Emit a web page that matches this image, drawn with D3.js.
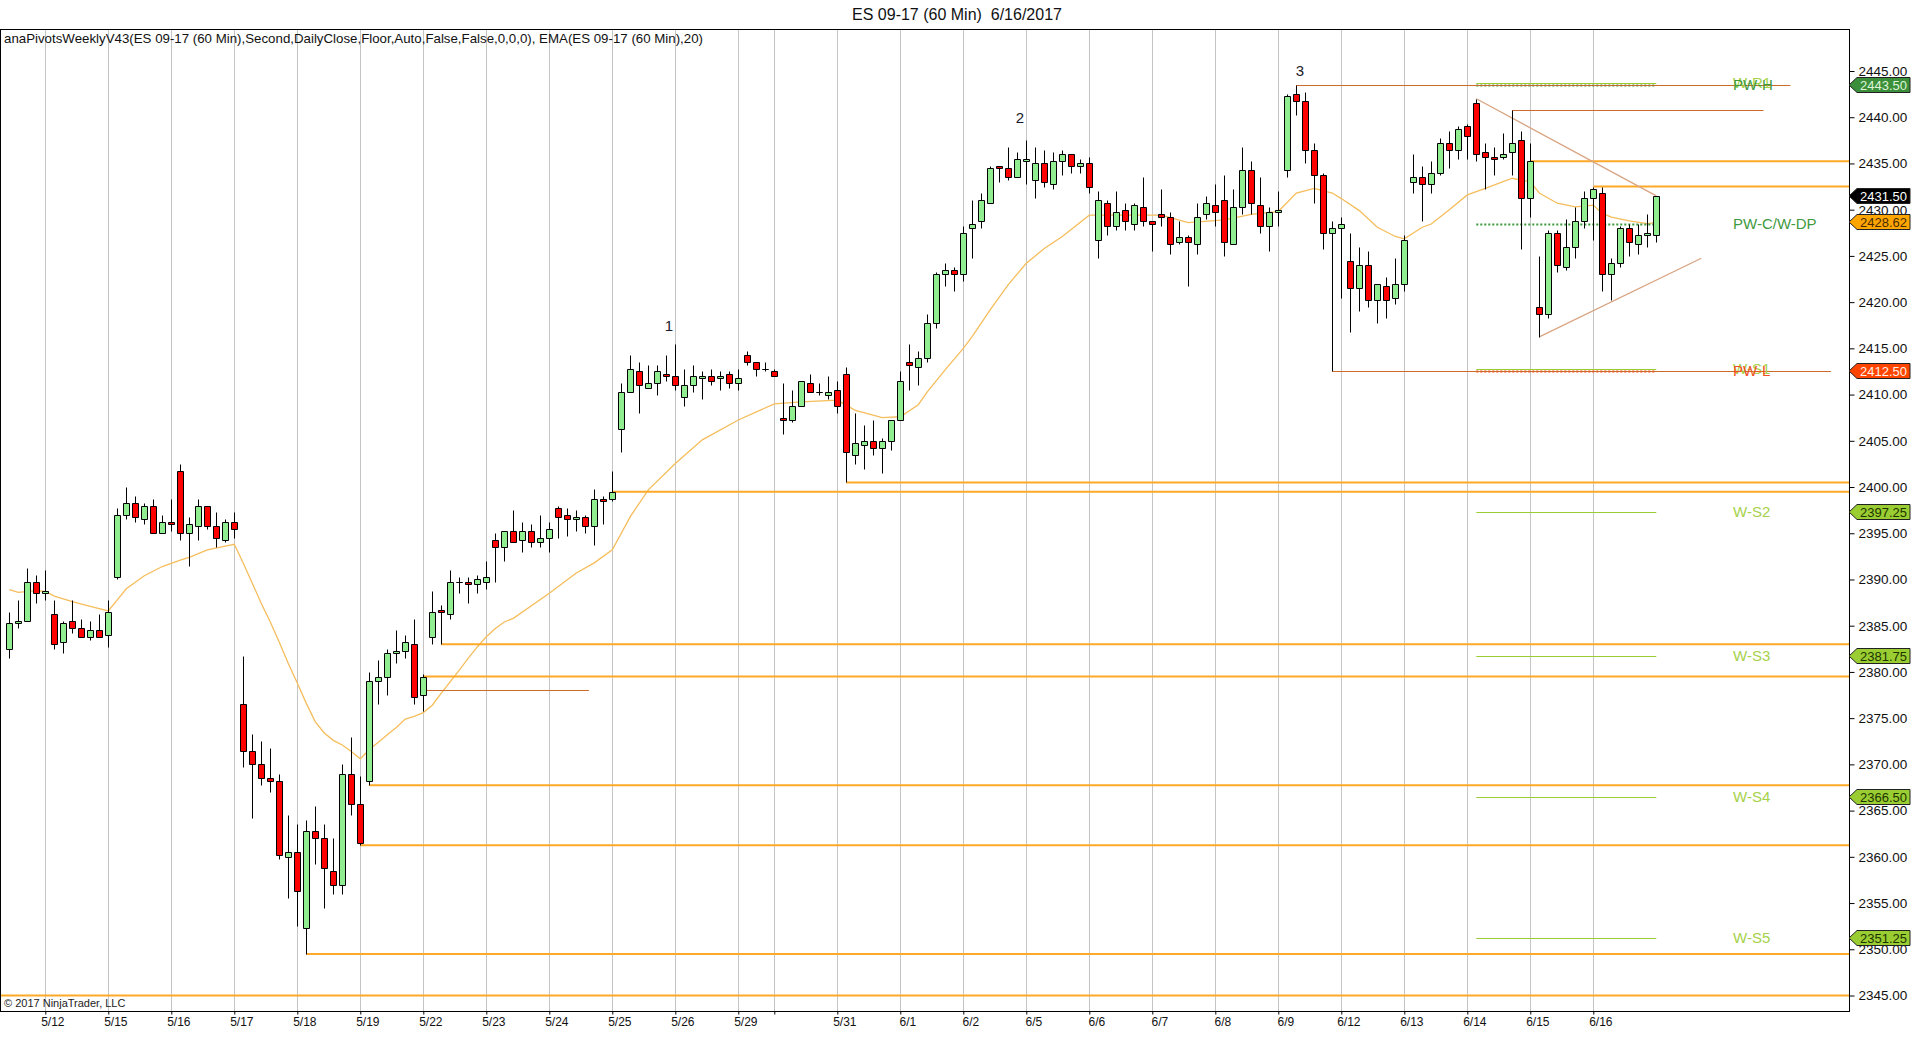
<!DOCTYPE html>
<html>
<head>
<meta charset="utf-8">
<script src="https://cdn.jsdelivr.net/npm/d3@7"></script>
<style>
  html, body { margin: 0; padding: 0; background: #fff; }
  svg { display: block; font-family: "Liberation Sans", Arial, sans-serif; }
</style>
</head>
<body>
<svg id="chart" width="1920" height="1055"></svg>
<script>
// ES 09-17, 60 min bars, 5/11 .. 6/16
const opens = [
  2382.5, 2385.25, 2385.5, 2389.75, 2388.5, 2386.25, 2383.25, 2385.5, 2384.75, 2383.75,
  2384.5, 2384, 2390.25, 2397, 2398.25, 2396.5, 2398, 2395, 2396.25, 2401.75,
  2395, 2395.75, 2398, 2395.75, 2394.25, 2396.25, 2376.5, 2371.5, 2370, 2368.5,
  2368.25, 2360, 2360.5, 2352.25, 2362.75, 2362, 2358.5, 2357, 2369, 2365.75,
  2368.25, 2379, 2379.5, 2382, 2382.25, 2383, 2377.5, 2383.75, 2386.75, 2386.25,
  2389.75, 2389.75, 2389.5, 2389.75, 2394.25, 2393.5, 2395.25, 2394.25, 2395.25, 2394,
  2394.5, 2397.75, 2397, 2396.5, 2396.75, 2395.75, 2398.75, 2398.75, 2406.25, 2410.25,
  2412.5, 2410.75, 2411.25, 2412.25, 2412, 2409.75, 2411, 2411.75, 2412, 2411.75,
  2412.25, 2411.25, 2414.25, 2413.5, 2412.75, 2412.5, 2407.5, 2407.25, 2408.75, 2411.25,
  2410.25, 2410, 2410.5, 2412.25, 2403.5, 2404.5, 2405, 2404.25, 2405, 2407.25,
  2413.5, 2413, 2414, 2417.75, 2423, 2423.5, 2423, 2428, 2428.75, 2430.75,
  2434.75, 2434.5, 2433.5, 2435.25, 2433.25, 2435, 2432.75, 2435.25, 2436, 2434.75,
  2435, 2426.75, 2430.75, 2428.25, 2430, 2428.5, 2430.25, 2428.75, 2429.5, 2429.25,
  2426.5, 2427, 2426.25, 2429.5, 2430.5, 2431, 2426.25, 2430.25, 2434.25, 2430.5,
  2428.25, 2429.75, 2434.25, 2442.5, 2441.75, 2436.5, 2433.75, 2427.5, 2428, 2424.5,
  2421.5, 2424, 2420.25, 2421.75, 2420.5, 2422, 2433, 2433.5, 2432.75, 2434,
  2437.25, 2436.5, 2439, 2441.5, 2436.25, 2435.75, 2435.75, 2436.25, 2437.5, 2431.25,
  2419.5, 2418.75, 2427.5, 2423.75, 2426, 2428.75, 2431.25, 2431.75, 2423, 2424.25,
  2428, 2426.25, 2427.25, 2427.25
];
const highs = [
  2386.5, 2387.75, 2391.25, 2390.5, 2391, 2387.75, 2385.5, 2387.75, 2385.75, 2385.5,
  2386.25, 2387.75, 2397.75, 2400, 2399, 2398.25, 2398.75, 2397, 2398.75, 2402.5,
  2396.75, 2398.75, 2398, 2397.25, 2396.5, 2397.25, 2381.75, 2373.25, 2372.5, 2371.75,
  2369, 2364.5, 2363.5, 2364, 2365.5, 2363.5, 2362, 2370, 2373, 2368.75,
  2380, 2381.25, 2382.5, 2384.5, 2384, 2385.75, 2379.75, 2388.75, 2387.25, 2391,
  2390.25, 2390.25, 2390.5, 2392, 2395, 2395.25, 2397.5, 2396.25, 2396, 2397,
  2396.25, 2398, 2397.75, 2397.5, 2397, 2399.75, 2399, 2401.75, 2411.25, 2414.25,
  2413.5, 2413.25, 2413.25, 2414.25, 2415.5, 2412.75, 2413.25, 2412.5, 2412.75, 2412.5,
  2412.5, 2412.75, 2414.75, 2413.5, 2413.5, 2412.75, 2411.25, 2410.5, 2411.5, 2412.25,
  2411.25, 2412, 2411.5, 2413, 2408, 2406.75, 2407.25, 2405.25, 2407.25, 2412.5,
  2415.5, 2414.75, 2418.75, 2423.25, 2424.25, 2423.75, 2428.25, 2431, 2431.75, 2434.75,
  2434.75, 2436.75, 2436.25, 2437.5, 2436.75, 2436.5, 2436.25, 2436.5, 2436, 2435.5,
  2435.75, 2432, 2431, 2432, 2430.75, 2430.75, 2433.5, 2428.75, 2432.25, 2429.75,
  2428.75, 2427.25, 2430.75, 2431.5, 2432.75, 2433.75, 2432.25, 2436.75, 2435.25, 2433.5,
  2430.25, 2432, 2442.5, 2443.5, 2442.75, 2437.25, 2434, 2428.75, 2429.25, 2427.5,
  2426, 2425.5, 2422, 2422.75, 2424.75, 2427.25, 2436, 2434.75, 2435.25, 2437.75,
  2438.5, 2439, 2439.25, 2442, 2437.25, 2436.75, 2438.25, 2440.75, 2438.5, 2437.25,
  2425, 2427.75, 2427.75, 2429, 2430.25, 2432, 2432.5, 2432.5, 2424.75, 2428.25,
  2428.5, 2428.5, 2429.5, 2431.5
];
const lows = [
  2381.5, 2384.75, 2385.5, 2387.5, 2387.75, 2382.5, 2382, 2384.25, 2383.75, 2383.5,
  2383.75, 2382.75, 2390, 2396.5, 2396.25, 2396, 2395, 2395, 2395.25, 2394.25,
  2391.5, 2394.25, 2395.5, 2393.5, 2394, 2394.5, 2369.75, 2364.25, 2367.75, 2367,
  2359.75, 2355.5, 2352.5, 2349.5, 2359.25, 2354.5, 2356, 2356, 2364.5, 2361.25,
  2367.75, 2376.5, 2377.5, 2381, 2381.5, 2376.5, 2375.75, 2383, 2383, 2385.75,
  2388.5, 2387.5, 2388.5, 2389, 2389.75, 2392, 2394, 2393, 2393.5, 2393.5,
  2393, 2394.5, 2394.75, 2395.25, 2395, 2393.75, 2396, 2398.5, 2403.75, 2410.25,
  2408, 2410.75, 2410, 2411.5, 2410.5, 2408.75, 2410.25, 2409.5, 2411, 2410.5,
  2410.75, 2410.5, 2413.25, 2412, 2412.5, 2412, 2405.75, 2407, 2408.75, 2410.25,
  2410, 2409.5, 2408, 2400.5, 2402.5, 2402, 2403.5, 2401.5, 2404, 2407.25,
  2410.5, 2411, 2413.5, 2417.25, 2421.75, 2421.25, 2422.25, 2424.75, 2428, 2430.75,
  2433, 2433.25, 2433.5, 2432.75, 2431.25, 2432.5, 2432.25, 2433.75, 2434, 2434,
  2431.75, 2424.75, 2427.25, 2427.75, 2427.75, 2427.75, 2428.25, 2425.5, 2428.25, 2425.25,
  2426.25, 2421.75, 2425.25, 2429, 2428.25, 2425, 2426.25, 2429.5, 2429.5, 2427.5,
  2425.5, 2428.25, 2433.5, 2440.25, 2435, 2430.75, 2425.75, 2412.5, 2420.5, 2416.75,
  2419, 2419.5, 2417.75, 2418.25, 2419.75, 2421.25, 2431.75, 2428.75, 2431.75, 2433.75,
  2434.5, 2435.5, 2435.5, 2435.25, 2432.25, 2433.75, 2435.5, 2433.75, 2425.75, 2429.25,
  2416.25, 2418.25, 2423.25, 2423.5, 2424.75, 2428, 2426.75, 2421.25, 2420.25, 2423.75,
  2425, 2425.25, 2426, 2426.5
];
const closes = [
  2385.25, 2385.5, 2389.75, 2388.5, 2388.75, 2383, 2385.25, 2384.75, 2383.75, 2384.5,
  2383.75, 2386.5, 2397, 2398.25, 2396.75, 2398, 2395, 2396.25, 2396, 2395,
  2396, 2398, 2395.75, 2394.5, 2396.25, 2395.5, 2371.5, 2370, 2368.5, 2368.25,
  2360.25, 2360.5, 2356.25, 2362.75, 2362, 2358.75, 2357, 2369, 2365.75, 2361.5,
  2379, 2379.5, 2382, 2382.25, 2383.25, 2377.25, 2379.5, 2386.5, 2386.5, 2389.75,
  2389.75, 2389.5, 2390, 2390.25, 2393.5, 2395.25, 2394, 2395.25, 2394, 2394.5,
  2395.5, 2396.75, 2396.5, 2396.75, 2395.75, 2398.75, 2398.5, 2399.5, 2410.25, 2412.75,
  2411, 2411.25, 2412.5, 2412, 2411, 2411, 2412, 2412, 2411.5, 2412,
  2411.25, 2411.75, 2413.5, 2412.75, 2412.75, 2412, 2407.25, 2408.75, 2411.5, 2410.25,
  2410.25, 2410.25, 2408.75, 2403.75, 2404.75, 2405, 2404.25, 2405, 2407.25, 2411.5,
  2413.25, 2414, 2417.75, 2423, 2423.5, 2423, 2427.5, 2428.5, 2431, 2434.5,
  2434.5, 2433.5, 2435.5, 2435.5, 2435, 2433, 2435.25, 2436, 2434.75, 2435,
  2432.5, 2431, 2428.25, 2429.75, 2428.75, 2430.5, 2428.75, 2428.5, 2429.25, 2426.25,
  2427, 2426.5, 2429.25, 2430.75, 2429.75, 2426.5, 2430.25, 2434.25, 2430.75, 2428.25,
  2429.75, 2430, 2442.25, 2441.75, 2436.5, 2433.75, 2427.5, 2428, 2428.5, 2421.5,
  2424, 2420.25, 2422, 2420.25, 2422, 2426.75, 2433.5, 2432.75, 2434, 2437.25,
  2436.5, 2438.75, 2438, 2436, 2435.75, 2435.5, 2436, 2437.25, 2431.25, 2435.25,
  2418.75, 2427.5, 2424, 2426, 2428.75, 2431.25, 2432.25, 2423, 2424.25, 2428,
  2426.5, 2427.25, 2427.5, 2431.5
];

// session separators (bar index) and their date labels
const dayIdx = [4, 11, 18, 25, 32, 39, 46, 53, 60, 67, 74, 81, 85, 92, 99, 106, 113, 120, 127, 134, 141, 148, 155, 162, 169, 176];
const dayLabels = ["5/12", "5/15", "5/16", "5/17", "5/18", "5/19", "5/22", "5/23", "5/24", "5/25", "5/26", "5/29", "", "5/31",
  "6/1", "6/2", "6/5", "6/6", "6/7", "6/8", "6/9", "6/12", "6/13", "6/14", "6/15", "6/16"];

// EMA(20): [bar index, value]
const emaPts = [
  [0, 2388.9], [1, 2388.6], [3, 2388.8], [4, 2388.7], [5, 2388.2], [7, 2387.6], [9, 2387.1], [11, 2386.6],
  [12, 2387.8], [13, 2389.0], [15, 2390.4], [17, 2391.4], [19, 2392.1], [20, 2392.4], [22, 2393.2], [24, 2393.6],
  [25, 2393.8], [26, 2391.75], [27, 2389.6], [28, 2387.4], [29, 2385.4], [30, 2383.2], [31, 2380.9], [32, 2378.8],
  [33, 2376.6], [34, 2374.6], [35, 2373.4], [36, 2372.6], [37, 2372.1], [38, 2371.4], [39, 2370.6], [40, 2371.6],
  [41, 2372.4], [42, 2373.2], [43, 2374.0], [44, 2374.9], [45, 2375.2], [46, 2375.6], [47, 2376.4], [48, 2377.7],
  [49, 2378.95], [50, 2380.2], [51, 2381.5], [52, 2382.7], [53, 2383.8], [54, 2384.7], [55, 2385.4], [56, 2385.8],
  [60, 2388.5], [63, 2390.7], [65, 2391.8], [67, 2393.2], [69, 2396.8], [71, 2399.7], [74, 2402.55], [77, 2405.1],
  [81, 2407.25], [85, 2409.0], [88, 2409.2], [92, 2409.4], [94, 2408.3], [97, 2407.5], [99, 2407.6], [101, 2408.9],
  [102, 2410.3], [104, 2412.7], [106, 2415.0], [107, 2416.3], [109, 2419.2], [111, 2421.9], [113, 2424.2], [115, 2425.8],
  [117, 2427.1], [120, 2429.4], [123, 2429.4], [128, 2429.4], [131, 2428.6], [135, 2428.9], [138, 2429.5], [141, 2429.8],
  [143, 2431.8], [145, 2432.3], [147, 2431.8], [148, 2431.2], [150, 2429.9], [152, 2428.1], [154, 2427.1], [155, 2426.85],
  [157, 2428.1], [158, 2428.45], [160, 2430.0], [162, 2431.6], [164, 2432.3], [167, 2433.4], [169, 2433.0], [170, 2431.8],
  [172, 2430.7], [174, 2430.3], [176, 2430.5], [177, 2429.6], [178, 2429.2], [180, 2428.8], [182, 2428.5], [183, 2428.62]
];

// orange support/resistance lines: start bar and price (run to the price axis)
const gapStart = [169, 176, 93, 67, 48, 46, 40, 39, 33, -1.1];
const gapPrice = [2435.25, 2432.5, 2400.5, 2399.5, 2383, 2379.5, 2367.75, 2361.25, 2349.5, 2345];

// brown swing lines: [from bar, to bar, price]
const swingLines = [[46, 64.4, 2378], [143, 197.9, 2443.5], [167, 194.9, 2440.75], [147, 202.4, 2412.5]];

// triangle lines: [bar1, price1, bar2, price2]
const trendLines = [[163, 2442, 183, 2431.5], [170, 2416.25, 188, 2424.75]];

// weekly pivots
const pivotNames = ["W-R1", "PW-H", "PW-C/W-DP", "W-S1", "PW-L", "W-S2", "W-S3", "W-S4", "W-S5"];
const pivotValues = [2443.75, 2443.5, 2428.5, 2412.75, 2412.5, 2397.25, 2381.75, 2366.5, 2351.25];

// price tags on the axis
const tagKinds = ["pwh", "last", "ema", "pwl", "ws", "ws", "ws", "ws"];
const tagValues = [2443.5, 2431.5, 2428.62, 2412.5, 2397.25, 2381.75, 2366.5, 2351.25];

// wave labels
const waveText = ["1", "2", "3"];
const waveIdx = [73.3, 112.3, 143.4];
const wavePrice = [2417.4, 2439.9, 2445.0];

// ---------------------------------------------------------------
const svg = d3.select("#chart");
const plot = { left: 0, top: 29, right: 1849, bottom: 1011 };

const x = d3.scaleLinear().domain([0, 183]).range([9.3, 1656.3]);
const y = d3.scaleLinear().domain([2345, 2445]).range([995.5, 71]);
const px = i => Math.floor(x(i)) + 0.5;
const py = v => Math.round(y(v)) + 0.5;

svg.append("rect").attr("width", 1920).attr("height", 1055).attr("fill", "#fff");

svg.append("clipPath").attr("id", "plotclip")
  .append("rect")
  .attr("x", plot.left).attr("y", plot.top)
  .attr("width", plot.right - plot.left).attr("height", plot.bottom - plot.top);

const g = svg.append("g").attr("clip-path", "url(#plotclip)");

// day separators
g.selectAll(".grid").data(dayIdx).join("line")
  .attr("class", "grid")
  .attr("x1", px).attr("x2", px)
  .attr("y1", plot.top).attr("y2", plot.bottom)
  .attr("stroke", "#c4c4c4").attr("stroke-width", 1);

// EMA
g.append("path")
  .datum(emaPts)
  .attr("fill", "none")
  .attr("stroke", "#f5bd5c")
  .attr("stroke-width", 1.3)
  .attr("d", d3.line().x(d => x(d[0])).y(d => y(d[1])));

// orange levels
g.selectAll(".gap").data(gapStart).join("line")
  .attr("class", "gap")
  .attr("x1", d => x(d)).attr("x2", plot.right)
  .attr("y1", (d, i) => y(gapPrice[i])).attr("y2", (d, i) => y(gapPrice[i]))
  .attr("stroke", "#ffa928").attr("stroke-width", 2);

// pivot lines (current week section)
const pivotStyle = name => {
  if (name === "PW-H" || name === "PW-C/W-DP") return { c: "#3a9a3a", dash: "2,2", w: 2 };
  if (name === "PW-L") return { c: "#ff4500", dash: "2,2", w: 2 };
  return { c: "#9acd32", dash: null, w: 1 };
};
g.selectAll(".piv").data(pivotValues).join("line")
  .attr("class", "piv")
  .attr("x1", x(163)).attr("x2", x(183))
  .attr("y1", d => py(d)).attr("y2", d => py(d))
  .attr("stroke", (d, i) => pivotStyle(pivotNames[i]).c)
  .attr("stroke-width", (d, i) => pivotStyle(pivotNames[i]).w)
  .attr("stroke-dasharray", (d, i) => pivotStyle(pivotNames[i]).dash);

// swing lines
g.selectAll(".swing").data(swingLines).join("line")
  .attr("class", "swing")
  .attr("x1", d => x(d[0])).attr("x2", d => x(d[1]))
  .attr("y1", d => py(d[2])).attr("y2", d => py(d[2]))
  .attr("stroke", "#cc6a2c").attr("stroke-width", 1.2);

// triangle
g.selectAll(".trend").data(trendLines).join("line")
  .attr("class", "trend")
  .attr("x1", d => x(d[0])).attr("y1", d => y(d[1]))
  .attr("x2", d => x(d[2])).attr("y2", d => y(d[3]))
  .attr("stroke", "#d8a482").attr("stroke-width", 1.3);

// candles
const bars = d3.range(opens.length);
g.selectAll(".wick").data(bars).join("line")
  .attr("class", "wick")
  .attr("x1", px).attr("x2", px)
  .attr("y1", i => py(highs[i])).attr("y2", i => py(lows[i]))
  .attr("stroke", "#000").attr("stroke-width", 1);

g.selectAll(".body").data(bars).join("path")
  .attr("class", "body")
  .attr("d", i => {
    const top = py(Math.max(opens[i], closes[i]));
    const bot = py(Math.min(opens[i], closes[i]));
    return `M${px(i) - 3},${top}h6V${bot}h-6Z`;
  })
  .attr("fill", i => closes[i] > opens[i] ? "#90ee90" : (closes[i] < opens[i] ? "#ff0000" : "#000"))
  .attr("stroke", "#000").attr("stroke-width", 1);

// wave numbers
svg.selectAll(".wave").data(waveText).join("text")
  .attr("class", "wave")
  .attr("x", (d, i) => x(waveIdx[i]))
  .attr("y", (d, i) => y(wavePrice[i]) + 5)
  .attr("text-anchor", "middle")
  .attr("font-size", 15)
  .attr("fill", "#1a1a2a")
  .text(d => d);

// pivot labels
const labelColor = name => {
  if (name === "PW-H" || name === "PW-C/W-DP") return "#3f9a3f";
  if (name === "PW-L") return "#f0501e";
  return "#a6d24a";
};
svg.selectAll(".plab").data(pivotNames).join("text")
  .attr("class", "plab")
  .attr("x", 1733)
  .attr("y", (d, i) => y(pivotValues[i]) + 5)
  .attr("font-size", 15)
  .attr("fill", labelColor)
  .text(d => d);

// frame
svg.append("rect")
  .attr("x", plot.left + 0.5).attr("y", plot.top + 0.5)
  .attr("width", plot.right - plot.left).attr("height", plot.bottom - plot.top)
  .attr("fill", "none").attr("stroke", "#000").attr("stroke-width", 1);

// price axis
const yAxis = d3.axisRight(y)
  .tickValues(d3.range(2345, 2446, 5))
  .tickFormat(d3.format(".2f"))
  .tickSize(5).tickPadding(4);
const ya = svg.append("g")
  .attr("transform", `translate(${plot.right + 0.5},0)`)
  .call(yAxis);
ya.select(".domain").remove();
ya.attr("font-family", "'Liberation Sans', Arial, sans-serif").attr("font-size", 13.5);
ya.selectAll("text").attr("fill", "#111");

// time axis
const xAxis = d3.axisBottom(x)
  .tickValues(dayIdx)
  .tickFormat((d, i) => dayLabels[i])
  .tickSize(3).tickPadding(3);
const xa = svg.append("g")
  .attr("transform", `translate(0,${plot.bottom + 0.5})`)
  .call(xAxis);
xa.select(".domain").remove();
xa.attr("font-family", "'Liberation Sans', Arial, sans-serif").attr("font-size", 12);
xa.selectAll("text").attr("dx", 7).attr("fill", "#111");

// axis tags
const tagStyle = {
  pwh: { fill: "#3c8f3a", text: "#dff5d8" },
  last: { fill: "#000", text: "#fff" },
  ema: { fill: "#ffa500", text: "#4a2c00" },
  pwl: { fill: "#ff4500", text: "#fff0e8" },
  ws: { fill: "#9acd32", text: "#1c3300" }
};
const tags = svg.selectAll(".tag").data(tagValues).join("g")
  .attr("class", "tag")
  .attr("transform", d => `translate(${plot.right},${Math.round(y(d))})`);
tags.append("path")
  .attr("d", "M0,0L8,-7.5H61V7.5H8Z")
  .attr("fill", (d, i) => tagStyle[tagKinds[i]].fill)
  .attr("stroke", "#222").attr("stroke-width", 1);
tags.append("text")
  .attr("x", 11).attr("y", 4.5)
  .attr("font-size", 13)
  .attr("fill", (d, i) => tagStyle[tagKinds[i]].text)
  .text(d => d.toFixed(2));

// titles
svg.append("text")
  .attr("x", 957).attr("y", 20)
  .attr("text-anchor", "middle")
  .attr("font-size", 16)
  .style("white-space", "pre")
  .attr("fill", "#111")
  .text("ES 09-17 (60 Min)  6/16/2017");

svg.append("text")
  .attr("x", 4).attr("y", 42.5)
  .attr("font-size", 13)
  .attr("textLength", 699).attr("lengthAdjust", "spacingAndGlyphs")
  .attr("fill", "#111")
  .text("anaPivotsWeeklyV43(ES 09-17 (60 Min),Second,DailyClose,Floor,Auto,False,False,0,0,0), EMA(ES 09-17 (60 Min),20)");

svg.append("text")
  .attr("x", 4).attr("y", 1007)
  .attr("font-size", 11)
  .attr("fill", "#222")
  .text("\u00a9 2017 NinjaTrader, LLC");
</script>
</body>
</html>
